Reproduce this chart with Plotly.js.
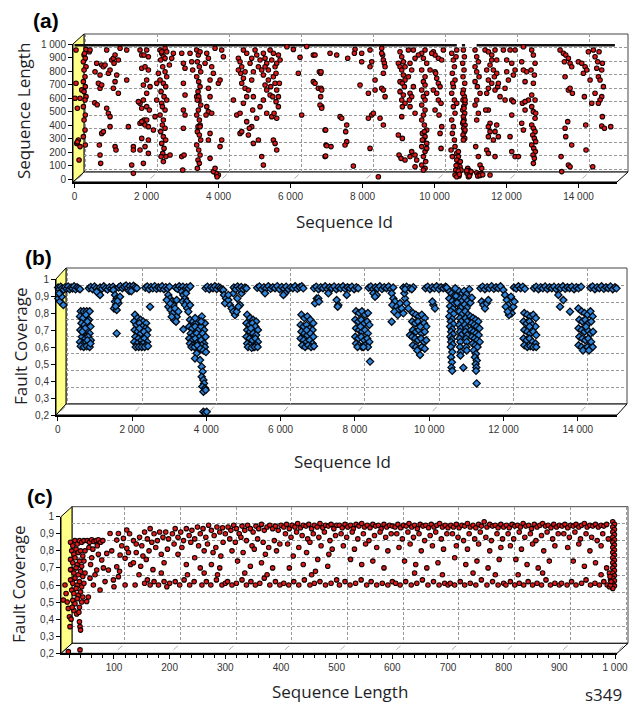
<!DOCTYPE html>
<html>
<head>
<meta charset="utf-8">
<script src="https://cdn.plot.ly/plotly-3.0.1.min.js"></script>
<style>
  html, body { margin: 0; padding: 0; background: #fff; }
  #chart { width: 635px; height: 706px; }
</style>
</head>
<body>
<div id="chart"></div>
<script>
// ---- tick labels ----
const idTicks = [0, 2000, 4000, 6000, 8000, 10000, 12000, 14000];
const idTickText = ['0', '2 000', '4 000', '6 000', '8 000', '10 000', '12 000', '14 000'];
const lenTicks = [0, 100, 200, 300, 400, 500, 600, 700, 800, 900, 1000];
const lenTickText = ['0', '100', '200', '300', '400', '500', '600', '700', '800', '900', '1 000'];
const lenXTickText = ['', '100', '200', '300', '400', '500', '600', '700', '800', '900', '1 000'];
const covTicks = [0.2, 0.3, 0.4, 0.5, 0.6, 0.7, 0.8, 0.9, 1];
const covTickText = ['0,2', '0,3', '0,4', '0,5', '0,6', '0,7', '0,8', '0,9', '1'];

// ---- (a) sequence length per sequence id ----
// sequences of the maximum length 1000 pile up into solid runs
const lengthTopRunsX = [0, 10620, null, 10760, 10850, null, 11170, 15010];
const lengthTopRunsY = [1000, 1000, null, 1000, 1000, null, 1000, 1000];
const lengthById = [
  [42,956],[42,709],[15,598],[153,598],[79,524],[107,289],[61,264],[153,240],[126,141],[200,660],[80,275],
  [265,919],[300,894],[246,869],[320,832],[265,808],[292,758],[246,721],[300,684],[265,647],[320,610],[292,585],
  [246,536],[300,474],[265,437],[292,363],[246,314],[300,252],[320,960],[280,930],
  [413,943],[431,956],[570,795],[616,857],[663,709],[709,770],[709,672],[690,252],[709,178],[727,116],[755,845],
  [755,696],[802,832],[848,845],[894,956],[941,783],[987,808],[1033,882],[1079,894],[1098,857],[1126,721],[1079,672],
  [894,524],[941,487],[987,462],[755,338],[802,351],[987,388],[1126,240],[1153,215],[1172,770],[1218,635],[1126,919],
  [1218,882],[1265,968],[560,565],[630,550],
  [1450,733],[1450,956],[1589,104],[1635,42],[1635,240],[1635,215],[1496,388],
  [1820,956],[1867,919],[1931,919],[2005,956],[2052,906],[1867,820],[1959,832],[2052,808],[2005,733],[1913,696],
  [2005,635],[1820,561],[1913,585],[1867,524],[2005,536],[1931,437],[2005,437],[1913,413],[1820,413],[1867,425],
  [1959,400],[1867,301],[2052,289],[1959,240],[1820,215],[2052,190],[2079,511],[2052,388],[1913,116],[1774,573],[2098,684],
  [2330,783],[2376,956],[2422,931],[2468,906],[2515,968],[2561,943],[2394,882],[2450,832],[2515,795],[2376,733],
  [2468,709],[2533,684],[2404,647],[2487,610],[2561,585],[2422,561],[2515,511],[2376,474],[2468,437],[2441,400],
  [2515,376],[2394,351],[2468,314],[2533,289],[2422,264],[2487,227],[2450,190],[2542,166],[2468,129],[2283,709],
  [2283,585],[2237,462],[2191,363],[2654,178],[2746,931],[2700,894],[2635,845],[2422,943],[2515,894],[2561,758],
  [2441,536],[2404,166],
  [2978,931],[3024,857],[3070,820],[3024,709],[3070,622],[3024,511],[3070,474],[3024,376],[2978,166],[3043,178],
  [3006,67],[3209,931],[3256,869],[3283,808],
  [3394,956],[3440,919],[3487,943],[3413,869],[3468,832],[3506,795],[3394,758],[3450,721],[3487,684],[3431,647],
  [3394,610],[3459,585],[3506,548],[3440,511],[3394,474],[3468,437],[3487,400],[3431,388],[3413,351],[3468,326],
  [3506,289],[3394,252],[3450,215],[3487,178],[3431,141],[3468,116],[3413,79],[3450,610],[3413,585],[3487,388],
  [3673,931],[3719,894],[3811,832],[3857,783],[3765,733],[3719,672],[3765,610],[3673,536],[3719,499],[3654,474],
  [3765,338],[3719,289],[3765,153],[3626,857],[3811,487],
  [3904,968],[3996,709],[4043,733],[4089,956],[4135,906],[4089,289],[4043,240],[3950,30],[3996,30],[3935,42],
  [3960,17],[3857,55],[3904,79],
  [4506,474],[4598,487],[4552,894],[4598,869],[4645,832],[4617,783],[4691,746],[4645,709],[4737,672],[4783,610],
  [4691,561],[4598,338],[4645,351],[4830,326],[4783,425],[4876,857],[4922,894],[4969,795],[4922,733],[4830,659],
  [4969,610],[4950,511],[4922,388],[4857,376],[4969,264],[4783,931],[4691,956],[4552,808],[4737,795],[4413,585],
  [5015,956],[5061,919],[5154,882],[5108,832],[5246,931],[5293,894],[5339,857],[5200,808],[5246,770],[5385,733],
  [5293,696],[5339,659],[5432,622],[5246,585],[5154,536],[5339,487],[5478,462],[5385,808],[5478,882],[5524,931],
  [5571,832],[5617,857],[5663,919],[5524,758],[5571,709],[5617,659],[5506,610],[5598,573],[5663,536],[5543,487],
  [5617,450],[5524,289],[5571,264],[5617,215],[5200,166],[5246,104],[5108,289],[5061,450],[5710,882],[5691,709],
  [5663,610],[5432,956],[5293,832],[5450,684],[5598,783],
  [6264,901],[6218,783],[6310,474],[6634,919],[6680,919],[6634,721],[6680,709],[6773,672],[6801,795],[6838,783],
  [6838,610],[6866,536],[6958,363],[6986,252],[6958,166],[6449,981],[6080,960],[5900,980],
  [6848,795],[6848,672],[6866,659],[6820,548],[6866,524],[7098,931],[7283,919],[7376,462],[7422,450],[6977,363],
  [7005,247],[7125,240],[6977,171],[7561,400],[7533,351],[7561,277],[7514,252],[7746,96],[7588,894],[7792,961],
  [7774,931],[7977,931],[7977,869],[7931,696],[8163,635],[8209,956],[8255,869],[8209,832],[8348,733],[8348,659],
  [8163,450],[8255,474],[8302,487],[8209,227],[8440,17],
  [8533,968],[8560,919],[8579,882],[8607,857],[8579,783],[8533,672],[8579,659],[8626,610],[8487,450],[8579,400],
  [8533,931],[8626,832],
  [9042,943],[9089,906],[9135,869],[8996,857],[9042,832],[9089,808],[9135,770],[9181,733],[9042,721],[9107,709],
  [9163,684],[9042,647],[9135,622],[9089,585],[9181,561],[9107,536],[9089,462],[8996,326],[9107,301],[9015,178],
  [9070,153],[9181,141],[9274,956],[9413,956],[9320,857],[9366,808],[9274,758],[9413,684],[9320,635],[9366,610],
  [9302,585],[9366,203],[9459,178],[9505,141],[9459,91],[9320,166],[9181,832],[9320,536],[9459,487],
  [9644,931],[9737,956],[9691,894],[9783,857],[9644,808],[9737,758],[9691,721],[9737,696],[9644,659],[9783,635],
  [9691,610],[9737,585],[9644,548],[9737,511],[9691,474],[9644,437],[9718,400],[9783,363],[9663,338],[9737,314],
  [9691,289],[9783,264],[9644,240],[9737,203],[9691,166],[9755,129],[9644,104],[9737,79],[9552,919],[9459,894],
  [9876,808],[9718,351],[9663,289],[9783,227],[9691,67],
  [9968,943],[10015,919],[10107,894],[10015,795],[10061,746],[10107,709],[10154,684],[10061,635],[10107,585],
  [10181,561],[10015,511],[10126,474],[10200,388],[10154,338],[10181,227],[9922,931],[10200,882],[10246,956],
  [10033,783],[9968,659],
  [10478,931],[10524,882],[10552,832],[10496,783],[10570,733],[10524,684],[10478,635],[10552,585],[10524,536],
  [10570,487],[10478,437],[10524,388],[10496,338],[10552,289],[10570,240],[10617,956],[10598,906],[10505,709],
  [10617,561],[10460,215],[10496,166],
  [10617,190],[10663,166],[10617,141],[10681,116],[10635,104],[10709,91],[10644,79],[10589,67],[10700,55],
  [10644,42],[10570,30],[10681,22],[10737,67],[10617,17],[10718,129],[10663,203],[10600,100],[10660,60],[10690,35],
  [10802,956],[10830,906],[10783,857],[10820,808],[10792,758],[10839,709],[10802,659],[10830,610],[10792,585],
  [10848,561],[10811,536],[10783,511],[10839,487],[10802,462],[10820,437],[10783,413],[10848,400],[10811,376],
  [10830,351],[10792,326],[10839,301],[10802,289],[10848,585],[10783,635],[10820,524],[10802,425],[10848,363],
  [10922,79],[10959,62],[10904,42],[10987,37],[10941,17],[11015,55],[10894,62],[10969,22],
  [11126,956],[11172,906],[11218,869],[11126,832],[11172,795],[11237,758],[11126,721],[11191,684],[11265,635],
  [11172,585],[11126,548],[11218,487],[11172,437],[11144,240],[11218,166],[11265,104],[11311,79],
  [11172,47],[11237,37],[11292,42],[11200,22],[11265,27],[11339,32],
  [11404,956],[11496,943],[11589,919],[11681,956],[11728,882],[11542,845],[11450,808],[11635,808],[11728,783],
  [11496,733],[11589,709],[11496,672],[11450,635],[11681,659],[11755,684],[11496,511],[11542,413],[11496,388],
  [11542,351],[11496,314],[11728,400],[11681,351],[11774,314],[11635,289],[11450,215],[11496,190],[11681,166],
  [11542,30],[11774,709],[11820,610],[11589,882],[11663,758],[11422,511],
  [11913,956],[12098,956],[12237,956],[12006,882],[12145,857],[12237,808],[12191,770],[11959,672],[12145,585],
  [12191,573],[11959,585],[12145,474],[12098,314],[12145,203],[12237,166],[12330,166],[12006,795],[12052,733],
  [12469,980],[12422,869],[12469,808],[12561,795],[12515,721],[12608,585],[12441,561],[12515,511],[12422,413],
  [12469,363],[12515,573],
  [12700,956],[12746,919],[12793,857],[12682,808],[12774,770],[12746,709],[12700,622],[12793,585],[12746,499],
  [12793,450],[12700,400],[12746,376],[12793,351],[12728,326],[12774,301],[12811,277],[12700,252],[12756,227],
  [12802,203],[12737,178],[12774,153],[12746,116],[12700,536],[12811,487],
  [13487,956],[13580,931],[13645,919],[13719,894],[13607,869],[13765,857],[13811,832],[13626,758],[13719,659],
  [13765,672],[13830,635],[13700,425],[13626,376],[13645,314],[13811,252],[13515,166],[13719,104],[13765,91],[13533,55],
  [13996,869],[14089,857],[14182,832],[14135,783],[14228,808],[14163,610],[14200,400],[14209,215],[14395,91],
  [14413,956],[14459,906],[14534,869],[14506,820],[14645,808],[14663,857],[14552,758],[14598,733],[14691,684],
  [14459,635],[14645,610],[14598,585],[14552,561],[14663,462],[14645,393],[14719,376],[14895,388],[14321,733],
  [14367,561],[14274,943],[14571,943]
];

// ---- (b) fault coverage per sequence id ----
const coverageById = [
  // 0 - 2100
  [10,0.95],[40,0.94],[80,0.955],[120,0.945],[160,0.937],[200,0.952],[240,0.943],[280,0.956],[320,0.94],[360,0.95],
  [400,0.944],[440,0.957],[480,0.939],[520,0.951],[560,0.946],[600,0.94],[17,0.886],[62,0.867],[152,0.847],[107,0.896],[40,0.915],
  [840,0.945],[890,0.953],[940,0.94],[990,0.956],[1040,0.946],[1090,0.937],[1140,0.95],[1190,0.943],[1240,0.957],
  [1290,0.946],[1340,0.938],[1390,0.952],[1440,0.944],[1490,0.955],[1530,0.94],[1094,0.916],[1139,0.906],[1049,0.925],
  [1498,0.935],[1543,0.906],[1588,0.886],[1543,0.867],[1570,0.847],[1516,0.827],[1588,0.818],[1632,0.857],[1677,0.896],
  [1588,0.68],[1610,0.87],[1560,0.84],
  [1640,0.95],[1690,0.958],[1740,0.946],[1790,0.955],[1840,0.962],[1890,0.948],[1940,0.957],[1990,0.944],[2040,0.96],
  [2090,0.951],[2130,0.946],[1920,0.93],[1980,0.928],
  [620,0.81],[700,0.81],[780,0.81],[860,0.81],[600,0.78],[680,0.77],[760,0.79],[840,0.76],[640,0.74],[720,0.73],
  [800,0.75],[880,0.72],[610,0.7],[700,0.69],[780,0.7],[860,0.68],[650,0.66],[740,0.65],[820,0.66],[890,0.64],
  [600,0.63],[680,0.62],[760,0.63],[840,0.62],[620,0.605],[700,0.6],[780,0.605],[860,0.6],[740,0.71],[660,0.69],
  [800,0.64],[880,0.62],
  [2080,0.79],[2150,0.77],[2230,0.76],[2300,0.75],[2380,0.74],[2060,0.75],[2120,0.73],[2200,0.74],[2280,0.72],
  [2360,0.71],[2420,0.7],[2070,0.7],[2150,0.69],[2240,0.68],[2320,0.69],[2400,0.67],[2090,0.66],[2170,0.65],
  [2250,0.64],[2330,0.65],[2410,0.63],[2060,0.63],[2140,0.62],[2220,0.61],[2300,0.62],[2380,0.61],[2100,0.6],
  [2180,0.6],[2260,0.6],[2340,0.6],[2430,0.605],[2200,0.71],
  // 2300 - 5100
  [2360,0.948],[2410,0.956],[2460,0.94],[2510,0.953],[2560,0.945],[2610,0.958],[2660,0.942],[2710,0.951],
  [2760,0.946],[2810,0.957],[2860,0.94],[2910,0.952],[2960,0.944],[3010,0.955],[2485,0.837],
  [2978,0.906],[3023,0.886],[3068,0.867],[3113,0.847],[2978,0.837],[3041,0.818],[3095,0.798],[3158,0.827],
  [3202,0.778],[3131,0.759],[3023,0.857],[3202,0.876],[3248,0.808],[2934,0.876],[3068,0.778],[3185,0.749],
  [3170,0.95],[3220,0.942],[3270,0.957],[3320,0.946],[3370,0.955],[3420,0.94],[3470,0.952],[3520,0.945],[3570,0.957],
  [3337,0.925],[3382,0.906],[3427,0.886],[3364,0.867],[3472,0.867],[3427,0.847],[3490,0.827],[3517,0.808],
  [3562,0.847],[3454,0.916],[3382,0.704],
  [3560,0.76],[3640,0.75],[3720,0.74],[3800,0.76],[3880,0.78],[3960,0.74],[3540,0.72],[3620,0.71],[3700,0.72],
  [3780,0.7],[3860,0.72],[3940,0.7],[3580,0.68],[3660,0.67],[3740,0.68],[3820,0.66],[3900,0.68],[3980,0.66],
  [3540,0.65],[3620,0.64],[3700,0.65],[3780,0.63],[3860,0.64],[3940,0.62],[3560,0.62],[3640,0.61],[3720,0.605],
  [3800,0.6],[3880,0.61],[3960,0.6],[3600,0.6],[3680,0.6],[3760,0.61],[3840,0.59],[3920,0.58],[3990,0.57],
  [3860,0.75],[3700,0.77],
  [3741,0.563],[3696,0.533],[3831,0.523],[3876,0.484],[3903,0.455],[3876,0.425],[3921,0.406],[3939,0.386],
  [3894,0.367],[3966,0.357],[3921,0.337],[3983,0.347],[3921,0.219],[3966,0.213],[4010,0.219],
  [3980,0.945],[4030,0.955],[4080,0.94],[4130,0.952],[4180,0.946],[4230,0.957],[4280,0.941],[4330,0.953],
  [4380,0.947],[4410,0.938],
  [4459,0.935],[4477,0.906],[4531,0.886],[4504,0.857],[4593,0.876],[4638,0.847],[4683,0.827],[4728,0.808],
  [4773,0.788],[4818,0.808],[4728,0.916],[4836,0.886],[4907,0.847],[4863,0.837],[4593,0.906],[4952,0.916],
  [4740,0.95],[4790,0.94],[4840,0.956],[4890,0.945],[4940,0.953],[4990,0.94],[5040,0.95],[5080,0.945],
  [5100,0.79],[5180,0.77],[5260,0.76],[5340,0.75],[5080,0.74],[5160,0.73],[5240,0.74],[5320,0.72],[5390,0.7],
  [5100,0.7],[5180,0.69],[5260,0.68],[5340,0.67],[5080,0.66],[5160,0.65],[5240,0.64],[5320,0.65],[5390,0.63],
  [5100,0.62],[5180,0.61],[5260,0.6],[5340,0.61],[5120,0.6],[5220,0.595],[5300,0.6],[5380,0.6],[5200,0.71],
  // 5300 - 8400
  [5370,0.948],[5430,0.956],[5490,0.94],[5550,0.952],[5610,0.945],[5670,0.957],[5730,0.942],[5790,0.951],
  [5850,0.946],[5910,0.958],[5970,0.94],[6030,0.953],[6090,0.944],[6150,0.955],[6210,0.94],[6270,0.951],
  [6330,0.946],[6390,0.957],[6450,0.942],[6510,0.952],[6570,0.958],[6610,0.945],[5580,0.916],[6119,0.916],[6074,0.906],
  [6560,0.79],[6640,0.77],[6720,0.78],[6800,0.76],[6880,0.74],[6540,0.73],[6620,0.72],[6700,0.73],[6780,0.71],
  [6860,0.7],[6560,0.69],[6640,0.68],[6720,0.67],[6800,0.68],[6880,0.66],[6540,0.65],[6620,0.64],[6700,0.63],
  [6780,0.64],[6860,0.62],[6580,0.61],[6660,0.6],[6740,0.61],[6820,0.6],[6900,0.605],[6700,0.7],
  [6900,0.945],[6960,0.955],[7020,0.94],[7080,0.952],[7140,0.946],[7200,0.957],[7260,0.941],[7320,0.951],
  [7380,0.946],[7440,0.956],[7500,0.94],[7560,0.952],[7620,0.945],[7680,0.957],[7740,0.942],[7800,0.951],
  [7860,0.946],[7920,0.955],[7980,0.94],[8040,0.952],[8090,0.946],
  [6927,0.857],[6972,0.886],[7016,0.886],[7034,0.867],[7509,0.876],[7554,0.847],[7536,0.837],[7779,0.906],[7285,0.916],
  [8030,0.81],[8110,0.8],[8190,0.81],[8270,0.79],[8350,0.8],[8010,0.76],[8090,0.75],[8170,0.76],[8250,0.74],
  [8330,0.75],[8390,0.73],[8030,0.71],[8110,0.7],[8190,0.69],[8270,0.7],[8350,0.68],[8010,0.66],[8090,0.65],
  [8170,0.66],[8250,0.64],[8330,0.65],[8390,0.63],[8030,0.62],[8110,0.61],[8190,0.6],[8270,0.61],[8350,0.6],
  [8070,0.6],[8230,0.6],[8407,0.514],[8150,0.72],
  // 8300 - 11400
  [8370,0.948],[8430,0.956],[8490,0.94],[8550,0.951],[8610,0.945],[8670,0.957],[8730,0.941],[8790,0.952],
  [8850,0.946],[8910,0.956],[8970,0.94],[9030,0.95],[8496,0.916],[8586,0.906],[8541,0.896],
  [8990,0.916],[9035,0.886],[9079,0.867],[9008,0.847],[9124,0.837],[9169,0.818],[9062,0.808],[9214,0.857],
  [9259,0.827],[9151,0.788],[8990,0.749],[9304,0.798],[9349,0.886],[9394,0.857],[9439,0.827],[9483,0.67],
  [9331,0.916],[9304,0.95],[9390,0.955],[9480,0.945],[9573,0.952],[9350,0.94],[9530,0.94],
  [9560,0.8],[9640,0.79],[9720,0.78],[9800,0.79],[9880,0.77],[9540,0.75],[9620,0.74],[9700,0.75],[9780,0.73],
  [9860,0.74],[9920,0.72],[9560,0.7],[9640,0.69],[9720,0.7],[9800,0.68],[9880,0.69],[9540,0.66],[9620,0.65],
  [9700,0.64],[9780,0.65],[9860,0.63],[9920,0.64],[9560,0.61],[9640,0.6],[9720,0.59],[9800,0.6],[9880,0.59],
  [9680,0.58],[9753,0.553],[9760,0.72],
  [9900,0.946],[9960,0.955],[10020,0.94],[10080,0.952],[10140,0.945],[10200,0.957],[10260,0.941],[10320,0.951],
  [10380,0.946],[10440,0.955],[10500,0.94],[10111,0.847],[10156,0.827],[10085,0.867],
  [10530,0.93],[10600,0.915],[10660,0.9],[10540,0.885],[10620,0.87],[10680,0.855],[10560,0.84],[10640,0.825],
  [10580,0.81],[10660,0.795],[10540,0.78],[10620,0.765],[10580,0.75],[10650,0.735],[10560,0.72],[10620,0.705],
  [10590,0.69],[10640,0.675],[10570,0.66],[10610,0.645],[10590,0.63],[10630,0.615],[10580,0.6],[10620,0.57],
  [10590,0.54],[10610,0.51],[10600,0.48],[10620,0.46],
  [10800,0.93],[10860,0.91],[10820,0.89],[10880,0.87],[10800,0.85],[10850,0.83],[10810,0.81],[10870,0.79],
  [10830,0.77],[10860,0.75],[10810,0.73],[10850,0.71],[10830,0.69],[10860,0.67],[10820,0.65],[10840,0.63],
  [10830,0.6],[10850,0.57],[10840,0.55],[10720,0.9],[10750,0.86],
  [10940,0.93],[11000,0.91],[10960,0.89],[11030,0.87],[10950,0.85],[11010,0.83],[10970,0.81],[11040,0.79],
  [10980,0.77],[11020,0.75],[10960,0.73],[11000,0.71],[10980,0.69],[11020,0.67],[10990,0.65],[11010,0.63],
  [11000,0.6],[11010,0.58],[10919,0.478],
  [11110,0.78],[11180,0.77],[11250,0.76],[11320,0.75],[11140,0.74],[11210,0.73],[11280,0.72],[11350,0.71],
  [11120,0.7],[11190,0.69],[11260,0.68],[11330,0.67],[11150,0.66],[11220,0.65],[11290,0.64],[11360,0.63],
  [11170,0.62],[11240,0.61],[11300,0.6],[11200,0.58],[11260,0.56],[11230,0.54],[11280,0.52],[11250,0.5],
  [11270,0.48],[11260,0.46],[11278,0.386],[11110,0.86],[11150,0.89],[10470,0.95],[10700,0.945],[11080,0.94],
  // 11300 - 15050
  [11380,0.946],[11440,0.955],[11500,0.94],[11560,0.952],[11620,0.945],[11680,0.958],[11740,0.942],[11800,0.951],
  [11860,0.946],[11920,0.957],[11413,0.867],[11457,0.847],[11502,0.827],[11547,0.857],[11592,0.876],
  [11996,0.935],[12041,0.906],[12086,0.876],[12130,0.847],[12175,0.818],[12220,0.798],[12059,0.837],[12148,0.788],
  [12265,0.837],[12202,0.896],[12113,0.808],[12292,0.867],
  [12280,0.95],[12340,0.944],[12400,0.957],[12460,0.946],[12520,0.955],[12575,0.942],
  [12560,0.8],[12640,0.79],[12720,0.78],[12800,0.79],[12870,0.77],[12540,0.75],[12620,0.74],[12700,0.75],
  [12780,0.73],[12860,0.72],[12560,0.7],[12640,0.69],[12720,0.68],[12800,0.69],[12880,0.67],[12540,0.65],
  [12620,0.64],[12700,0.65],[12780,0.63],[12860,0.62],[12560,0.61],[12640,0.6],[12720,0.605],[12800,0.6],
  [12880,0.6],[12700,0.72],
  [12820,0.946],[12880,0.955],[12940,0.94],[13000,0.952],[13060,0.945],[13120,0.956],[13180,0.941],[13240,0.951],
  [13300,0.946],[13360,0.955],[13420,0.94],[13480,0.952],[13540,0.945],[13600,0.957],[13660,0.942],[13720,0.951],
  [13780,0.946],[13840,0.955],[13900,0.94],[13960,0.952],[14020,0.945],[14090,0.955],
  [13521,0.837],[13790,0.808],[13477,0.906],[13611,0.876],
  [14015,0.827],[14100,0.81],[14180,0.8],[14260,0.79],[14340,0.81],[14400,0.78],[14040,0.76],[14120,0.75],
  [14200,0.76],[14280,0.74],[14360,0.75],[14020,0.71],[14100,0.7],[14180,0.69],[14260,0.7],[14340,0.68],
  [14410,0.69],[14040,0.66],[14120,0.65],[14200,0.64],[14280,0.65],[14360,0.63],[14020,0.61],[14100,0.6],
  [14180,0.59],[14260,0.6],[14340,0.59],[14400,0.6],[14140,0.58],[14300,0.58],[14220,0.72],
  [14340,0.948],[14400,0.956],[14460,0.94],[14520,0.952],[14580,0.946],[14640,0.957],[14700,0.942],[14760,0.951],
  [14820,0.946],[14880,0.956],[14940,0.94],[15000,0.951],[15040,0.945]
];

// ---- (c) fault coverage per sequence length ----
const coverageByLength = [
  [9,0.512],[12,0.6],[18,0.463],[20,0.414],[21,0.356],[18,0.21],[39,0.22],[38,0.385],[39,0.356],[40,0.336],[14,0.55],[16,0.5],
  [22,0.85],[26,0.83],[30,0.86],[34,0.84],[38,0.86],[42,0.85],[46,0.86],[24,0.8],[28,0.78],[32,0.81],[36,0.79],
  [40,0.8],[44,0.77],[48,0.8],[22,0.75],[26,0.73],[30,0.76],[34,0.72],[38,0.74],[42,0.71],[46,0.74],[24,0.69],
  [28,0.67],[32,0.7],[36,0.66],[40,0.68],[44,0.65],[48,0.67],[22,0.63],[26,0.61],[30,0.64],[34,0.6],[38,0.62],
  [42,0.59],[46,0.61],[24,0.57],[28,0.55],[32,0.58],[36,0.54],[40,0.56],[44,0.53],[26,0.51],[30,0.49],[34,0.52],
  [38,0.47],[42,0.5],[28,0.45],[33,0.43],[37,0.44],[22,0.69],[25,0.47],[23,0.4],
  [52,0.86],[56,0.85],[60,0.865],[64,0.855],[68,0.86],[72,0.865],[76,0.85],[80,0.86],[55,0.82],[62,0.81],[70,0.83],
  [54,0.53],[51,0.503],[63,0.6],[75,0.571],[69,0.688],[78,0.746],[87,0.785],[90,0.688],[99,0.63],[105,0.707],
  [108,0.649],[111,0.776],[120,0.756],[123,0.815],[117,0.873],[123,0.922],[105,0.863],[108,0.902],[93,0.902],
  [58,0.72],[66,0.66],[84,0.62],[96,0.8],[72,0.78],[60,0.76],[81,0.7],[57,0.64],[114,0.83],[126,0.79],[100,0.59],[130,0.72],
  [128,0.9],[135,0.86],[140,0.84],[146,0.88],[150,0.83],[155,0.91],[160,0.87],[165,0.93],[168,0.85],[172,0.9],
  [178,0.86],[182,0.91],[188,0.88],[193,0.91],[198,0.87],[140,0.79],[152,0.77],[163,0.8],[175,0.82],[185,0.78],
  [196,0.81],[135,0.73],[148,0.71],[158,0.75],[170,0.69],[190,0.73],[145,0.66],[160,0.63],[172,0.62],[180,0.6],
  [190,0.62],[200,0.61],[155,0.61],[165,0.6],[138,0.6],[195,0.59],[120,0.6],[110,0.68],[185,0.67],
  [205,0.9],[210,0.93],[215,0.88],[220,0.91],[225,0.86],[230,0.93],[235,0.89],[240,0.92],[245,0.87],[250,0.94],
  [255,0.9],[260,0.93],[265,0.88],[270,0.95],[275,0.92],[280,0.89],[285,0.94],[290,0.91],[295,0.935],[300,0.9],
  [208,0.84],[222,0.82],[238,0.85],[252,0.83],[268,0.84],[283,0.82],[296,0.85],[215,0.78],[245,0.76],[262,0.8],
  [278,0.79],[292,0.77],[230,0.72],[255,0.7],[275,0.72],[290,0.7],[210,0.62],[218,0.6],[226,0.63],[236,0.6],
  [244,0.62],[258,0.6],[266,0.62],[274,0.6],[284,0.63],[294,0.6],[300,0.61],[262,0.67],[286,0.66],[232,0.66],
  [305,0.94],[310,0.92],[315,0.95],[320,0.93],[325,0.9],[330,0.945],[335,0.92],[340,0.95],[345,0.93],[350,0.91],
  [355,0.945],[360,0.93],[365,0.955],[370,0.92],[375,0.94],[380,0.95],[385,0.93],[390,0.945],[395,0.92],[400,0.95],
  [308,0.87],[318,0.85],[328,0.88],[338,0.86],[348,0.83],[358,0.87],[368,0.85],[378,0.82],[388,0.86],[398,0.84],
  [312,0.8],[332,0.79],[352,0.81],[372,0.78],[392,0.8],[322,0.74],[345,0.71],[365,0.73],[385,0.7],[304,0.62],
  [312,0.6],[320,0.61],[330,0.63],[338,0.6],[346,0.62],[354,0.6],[362,0.61],[370,0.64],[380,0.6],[390,0.62],
  [398,0.6],[335,0.67],[375,0.66],
  [405,0.94],[410,0.955],[415,0.93],[420,0.95],[425,0.94],[430,0.96],[435,0.935],[440,0.95],[445,0.945],[450,0.955],
  [455,0.93],[460,0.95],[465,0.94],[470,0.96],[475,0.935],[480,0.95],[485,0.945],[490,0.955],[495,0.93],[500,0.95],
  [408,0.9],[418,0.88],[428,0.91],[438,0.89],[448,0.87],[458,0.9],[468,0.88],[478,0.91],[488,0.86],[498,0.89],
  [412,0.84],[432,0.82],[452,0.85],[472,0.83],[492,0.81],[422,0.77],[446,0.79],[466,0.75],[486,0.78],[415,0.7],
  [440,0.72],[462,0.68],[484,0.71],[405,0.61],[414,0.6],[423,0.62],[432,0.6],[442,0.63],[452,0.6],[460,0.61],
  [470,0.62],[480,0.6],[490,0.61],[500,0.63],[455,0.66],
  [505,0.95],[510,0.935],[515,0.955],[520,0.94],[525,0.95],[530,0.93],[535,0.955],[540,0.945],[545,0.96],[550,0.94],
  [555,0.95],[560,0.935],[565,0.955],[570,0.945],[575,0.95],[580,0.93],[585,0.955],[590,0.94],[595,0.95],[600,0.945],
  [508,0.9],[518,0.88],[528,0.91],[538,0.87],[548,0.9],[558,0.86],[568,0.89],[578,0.91],[588,0.88],[598,0.9],
  [512,0.83],[532,0.81],[552,0.84],[572,0.82],[592,0.8],[525,0.75],[545,0.72],[565,0.74],[585,0.7],[505,0.6],
  [515,0.62],[524,0.6],[534,0.61],[544,0.63],[554,0.6],[562,0.62],[572,0.6],[582,0.61],[592,0.6],[600,0.62],
  [605,0.94],[610,0.955],[615,0.935],[620,0.95],[625,0.945],[630,0.96],[635,0.94],[640,0.95],[645,0.93],[650,0.955],
  [655,0.945],[660,0.95],[665,0.935],[670,0.955],[675,0.94],[680,0.95],[685,0.96],[690,0.94],[695,0.95],[700,0.935],
  [608,0.9],[618,0.87],[628,0.91],[638,0.88],[648,0.9],[658,0.86],[668,0.89],[678,0.91],[688,0.87],[698,0.9],
  [612,0.82],[632,0.84],[652,0.8],[672,0.83],[692,0.81],[622,0.74],[642,0.72],[662,0.7],[682,0.73],[606,0.61],
  [614,0.6],[624,0.62],[634,0.6],[644,0.61],[654,0.63],[664,0.6],[674,0.62],[684,0.6],[694,0.61],[700,0.6],
  [640,0.67],[690,0.66],
  [705,0.95],[710,0.94],[715,0.955],[720,0.935],[725,0.95],[730,0.945],[735,0.96],[740,0.94],[745,0.95],[750,0.935],
  [755,0.955],[760,0.945],[765,0.97],[770,0.94],[775,0.955],[780,0.945],[785,0.95],[790,0.935],[795,0.955],[800,0.94],
  [708,0.9],[718,0.88],[728,0.86],[738,0.9],[748,0.87],[758,0.91],[768,0.88],[778,0.86],[788,0.9],[798,0.87],
  [715,0.83],[735,0.81],[755,0.84],[775,0.8],[795,0.82],[712,0.76],[732,0.72],[752,0.74],[772,0.7],[792,0.75],
  [704,0.61],[712,0.6],[722,0.62],[730,0.6],[740,0.61],[750,0.6],[760,0.63],[770,0.6],[780,0.62],[790,0.6],
  [800,0.61],[745,0.67],[785,0.66],
  [805,0.95],[810,0.935],[815,0.955],[820,0.945],[825,0.95],[830,0.94],[835,0.96],[840,0.945],[845,0.95],[850,0.93],
  [855,0.955],[860,0.94],[865,0.95],[870,0.96],[875,0.945],[880,0.95],[885,0.935],[890,0.955],[895,0.94],[900,0.95],
  [808,0.9],[818,0.87],[828,0.91],[838,0.88],[848,0.9],[858,0.86],[868,0.89],[878,0.91],[888,0.87],[898,0.9],
  [812,0.83],[832,0.81],[852,0.84],[872,0.8],[892,0.83],[822,0.75],[842,0.72],[862,0.7],[882,0.74],[804,0.6],
  [812,0.62],[820,0.6],[828,0.61],[836,0.6],[844,0.62],[852,0.6],[860,0.61],[868,0.6],[876,0.63],[884,0.6],
  [892,0.61],[900,0.6],[826,0.66],[870,0.67],
  [905,0.945],[910,0.955],[915,0.935],[920,0.95],[925,0.945],[930,0.955],[935,0.94],[940,0.95],[945,0.96],[950,0.94],
  [955,0.95],[960,0.945],[965,0.955],[970,0.94],[975,0.95],[980,0.945],[985,0.955],[908,0.9],[918,0.88],[928,0.91],
  [938,0.87],[948,0.9],[958,0.88],[968,0.86],[978,0.9],[988,0.87],[915,0.82],[935,0.84],[955,0.8],[975,0.83],
  [925,0.74],[945,0.71],[965,0.73],[985,0.7],[904,0.61],[914,0.6],[922,0.62],[930,0.6],[940,0.61],[948,0.63],
  [956,0.6],[964,0.61],[972,0.6],[980,0.62],[986,0.6],[975,0.66],[990,0.67],[992,0.63],
  [996,0.97],[999,0.955],[996,0.94],[999,0.925],[996,0.91],[999,0.895],[996,0.88],[999,0.865],[996,0.85],[999,0.835],
  [996,0.82],[999,0.805],[996,0.79],[999,0.775],[996,0.76],[999,0.745],[996,0.73],[999,0.715],[996,0.7],[999,0.685],
  [996,0.67],[999,0.655],[996,0.64],[999,0.625],[996,0.61],[999,0.595],[996,0.58],[990,0.59],[992,0.6],[993,0.62],[991,0.65]
];

// ---- page geometry (pixels) ----
const W = 635, H = 706;
const fx = v => v / W;
const fy = v => 1 - v / H;

// front plane of each pseudo-3D box and the depth shift of its back wall
const BOX = {
  a: { l: 73, r: 617, t: 44, b: 182, dx: 11, dy: -10, xr: [-42, 15069], yr: [-22, 1000] },
  b: { l: 56, r: 617, t: 279, b: 415, dx: 10, dy: -11, xr: [-46, 15055], yr: [0.2, 1] },
  c: { l: 61, r: 617, t: 516.7, b: 653.3, dx: 11, dy: -10, xr: [4.85, 1003.6], yr: [0.2, 1] }
};

const TICKFONT = { family: 'Liberation Sans, Arial, sans-serif', size: 10, color: '#333' };

function backAxis(box, horiz, vals) {
  return {
    domain: horiz ? [fx(box.l + box.dx), fx(box.r + box.dx)] : [fy(box.b + box.dy), fy(box.t + box.dy)],
    range: horiz ? box.xr : box.yr,
    tickvals: vals, showticklabels: false, ticks: '',
    showgrid: true, gridcolor: '#999', gridwidth: 1, griddash: '3px,2px',
    zeroline: false, showline: false, fixedrange: true
  };
}

function frontAxis(box, horiz, vals, text) {
  return {
    domain: horiz ? [fx(box.l), fx(box.r)] : [fy(box.b), fy(box.t)],
    range: horiz ? box.xr : box.yr,
    tickvals: vals, ticktext: text, tickfont: TICKFONT,
    ticks: 'outside', ticklen: 4, tickcolor: '#000', tickwidth: 1,
    showgrid: false, zeroline: false,
    showline: true, linecolor: '#000', linewidth: horiz ? 2 : 1,
    fixedrange: true
  };
}

function path(pts) {
  return 'M' + pts.map(p => fx(p[0]).toFixed(5) + ',' + fy(p[1]).toFixed(5)).join('L') + 'Z';
}

function boxShapes(box, xticks) {
  const { l, r, t, b, dx, dy, xr } = box;
  const out = [
    // back wall frame
    { type: 'rect', xref: 'paper', yref: 'paper', layer: 'below',
      x0: fx(l + dx), x1: fx(r + dx), y0: fy(b + dy), y1: fy(t + dy),
      line: { color: '#444', width: 1 }, fillcolor: '#fff' },
    // floor
    { type: 'path', xref: 'paper', yref: 'paper', layer: 'below',
      path: path([[l, b], [r, b], [r + dx, b + dy], [l + dx, b + dy]]),
      line: { color: '#000', width: 1 }, fillcolor: '#fff' },
    // yellow side wall
    { type: 'path', xref: 'paper', yref: 'paper', layer: 'below',
      path: path([[l, t], [l + dx, t + dy], [l + dx, b + dy], [l, b]]),
      line: { color: '#000', width: 1 }, fillcolor: '#ffff88' }
  ];
  // faint depth marks on the floor where the grid lines meet it
  xticks.forEach(v => {
    const x = l + (v - xr[0]) / (xr[1] - xr[0]) * (r - l);
    out.push({ type: 'line', xref: 'paper', yref: 'paper', layer: 'below',
      x0: fx(x + dx * 0.35), y0: fy(b + dy * 0.35), x1: fx(x + dx * 0.75), y1: fy(b + dy * 0.75),
      line: { color: '#b0b0b0', width: 1 } });
  });
  return out;
}

// ---- traces ----
const panels = [
  { key: 'a', pts: lengthById, color: '#e01818', outline: '#140000', symbol: 'circle', size: 4.5, lw: 1.1,
    xt: idTicks, xtt: idTickText, yt: lenTicks, ytt: lenTickText },
  { key: 'b', pts: coverageById, color: '#2f86dc', outline: '#040a12', symbol: 'diamond', size: 5.5, lw: 1.3,
    xt: idTicks, xtt: idTickText, yt: covTicks, ytt: covTickText },
  { key: 'c', pts: coverageByLength, color: '#e01818', outline: '#140000', symbol: 'circle', size: 4.5, lw: 1.1,
    xt: lenTicks, xtt: lenXTickText, yt: covTicks, ytt: covTickText }
];

const traces = [];
const layout = {
  width: W, height: H,
  margin: { l: 0, r: 0, t: 0, b: 0 },
  paper_bgcolor: '#fff', plot_bgcolor: 'rgba(0,0,0,0)',
  showlegend: false,
  font: { family: 'Open Sans, sans-serif', color: '#222' },
  shapes: [], annotations: []
};

panels.forEach((p, i) => {
  const box = BOX[p.key];
  const bx = 2 * i + 1, fr = 2 * i + 2;
  const bxName = bx === 1 ? '' : String(bx);
  // back wall: grid only
  layout['xaxis' + bxName] = Object.assign(backAxis(box, true, p.xt), { anchor: 'y' + bxName });
  layout['yaxis' + bxName] = Object.assign(backAxis(box, false, p.yt), { anchor: 'x' + bxName });
  traces.push({ x: [], y: [], xaxis: 'x' + bxName, yaxis: 'y' + bxName, type: 'scatter', hoverinfo: 'skip' });
  // front plane: ticks and data
  layout['xaxis' + fr] = Object.assign(frontAxis(box, true, p.xt, p.xtt), { anchor: 'y' + fr });
  layout['yaxis' + fr] = Object.assign(frontAxis(box, false, p.yt, p.ytt), { anchor: 'x' + fr });
  if (p.key === 'c') layout['xaxis' + fr].minor = { dtick: 20, ticks: 'outside', ticklen: 3, tickcolor: '#000', showgrid: false };
  if (p.key === 'a') {
    traces.push({ x: lengthTopRunsX, y: lengthTopRunsY, xaxis: 'x' + fr, yaxis: 'y' + fr,
      type: 'scatter', mode: 'lines', line: { color: '#111', width: 5 }, connectgaps: false,
      cliponaxis: false, hoverinfo: 'skip' });
  }
  traces.push({
    x: p.pts.map(d => d[0]), y: p.pts.map(d => d[1]),
    xaxis: 'x' + fr, yaxis: 'y' + fr, type: 'scatter', mode: 'markers', cliponaxis: false,
    marker: { color: p.color, size: p.size, symbol: p.symbol, line: { color: p.outline, width: p.lw } },
    hoverinfo: 'x+y'
  });
  layout.shapes.push(...boxShapes(box, p.xt.filter(v => v > box.xr[0] + 1)));
});

// ---- text ----
function note(text, x, y, opts) {
  return Object.assign({ text, x: fx(x), y: fy(y), xref: 'paper', yref: 'paper', showarrow: false,
    xanchor: 'center', yanchor: 'middle',
    font: { family: 'Open Sans, sans-serif', size: 17, color: '#1e1e28' } }, opts || {});
}
const BOLD = { font: { family: 'Liberation Sans, Arial, sans-serif', size: 21, color: '#000', weight: 'bold' } };
layout.annotations.push(
  note('<b>(a)</b>', 46, 20, BOLD),
  note('<b>(b)</b>', 38, 257, BOLD),
  note('<b>(c)</b>', 40, 496, BOLD),
  note('Sequence Length', 23, 111, { textangle: -90 }),
  note('Sequence Id', 344, 221),
  note('Fault Coverage', 20, 346, { textangle: -90 }),
  note('Sequence Id', 343, 461),
  note('Fault Coverage', 18, 584, { textangle: -90 }),
  note('Sequence Length', 340, 691),
  note('s349', 603, 694)
);

Plotly.newPlot('chart', traces, layout, { displayModeBar: false, staticPlot: true });
</script>
</body>
</html>
